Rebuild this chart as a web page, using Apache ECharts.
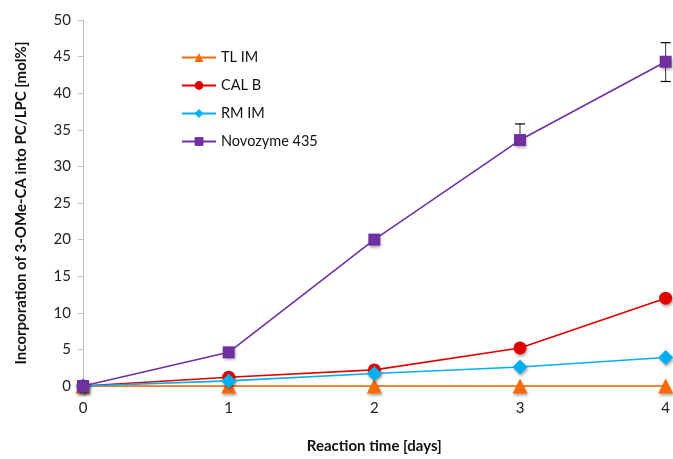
<!DOCTYPE html>
<html><head><meta charset="utf-8">
<script src="https://cdn.jsdelivr.net/npm/echarts@6/dist/echarts.min.js"></script>
<style>html,body{margin:0;padding:0;background:#fff;overflow:hidden;width:100%;height:100%}#c{width:100vw;height:100vh}</style>
</head><body><div id="c"></div>
<script>
var days = [0, 1, 2, 3, 4];
var tlIm = [0, 0, 0, 0, 0];
var calB = [0, 1.2, 2.2, 5.2, 12.0];
var rmIm = [0, 0.7, 1.7, 2.6, 3.9];
var novozyme = [0, 4.6, 20.0, 33.6, 44.3];
var novoErrUpper = [null, null, null, 35.8, 46.9];
var novoErrLower = [null, null, null, null, 41.6];

function pairs(vals){ return days.map(function(d,i){ return [d, vals[i]]; }); }

var font = 'Lato, "Open Sans", sans-serif';
function lineSeries(name, vals, color, symbol, size, z){
  return {
    name: name, type: 'line', data: pairs(vals), symbol: symbol, symbolSize: size,
    z: z, clip: false,
    lineStyle: {color: color, width: 1.6},
    itemStyle: {color: color, shadowBlur: 3, shadowColor: 'rgba(0,0,0,0.35)', shadowOffsetX: 1, shadowOffsetY: 2},
    emphasis: {disabled: true}
  };
}

var errData = [];
days.forEach(function(d,i){
  if (novoErrUpper[i] !== null) errData.push([d, novozyme[i], novoErrUpper[i]]);
  if (novoErrLower[i] !== null) errData.push([d, novozyme[i], novoErrLower[i]]);
});

var chart = echarts.init(document.getElementById('c'));
chart.setOption({
  animation: false,
  grid: {left: 83, right: 1, top: 20, bottom: 69, containLabel: false},
  legend: {
    orient: 'vertical', left: 176, top: 45, itemWidth: 34, itemHeight: 11, itemGap: 13,
    textStyle: {fontFamily: font, fontSize: 14.5, color: '#111'},
    data: ['TL IM', 'CAL B', 'RM IM', 'Novozyme 435']
  },
  xAxis: {
    type: 'value', min: 0, max: 4, interval: 1,
    name: 'Reaction time [days]', nameLocation: 'middle', nameGap: 53,
    nameTextStyle: {fontFamily: font, fontSize: 15, fontWeight: 'bold', color: '#111'},
    axisLine: {show: true, lineStyle: {color: '#bfbfbf'}},
    axisTick: {show: false},
    splitLine: {show: false},
    axisLabel: {fontFamily: font, fontSize: 15, color: '#222', margin: 15}
  },
  yAxis: {
    type: 'value', min: 0, max: 50, interval: 5,
    name: 'Incorporation of 3-OMe-CA into PC/LPC [mol%]', nameLocation: 'middle', nameGap: 54,
    nameTextStyle: {fontFamily: font, fontSize: 15, fontWeight: 'bold', color: '#111'},
    axisLine: {show: true, lineStyle: {color: '#bfbfbf'}},
    axisTick: {show: true, length: 5, lineStyle: {color: '#bfbfbf'}},
    splitLine: {show: false},
    axisLabel: {fontFamily: font, fontSize: 15, color: '#222', margin: 12}
  },
  series: [
    lineSeries('TL IM', tlIm, '#FF6A00', 'triangle', 15, 2),
    lineSeries('CAL B', calB, '#E00000', 'circle', 13, 3),
    lineSeries('RM IM', rmIm, '#00B0F0', 'diamond', 15, 4),
    lineSeries('Novozyme 435', novozyme, '#7030A0', 'rect', 12, 5),
    {
      type: 'custom', name: 'err', z: 1, silent: true, data: errData,
      renderItem: function(params, api){
        var p0 = api.coord([api.value(0), api.value(1)]);
        var p1 = api.coord([api.value(0), api.value(2)]);
        return {type: 'group', children: [
          {type: 'line', shape: {x1: p0[0], y1: p0[1], x2: p1[0], y2: p1[1]}, style: {stroke: '#000', lineWidth: 0.8}},
          {type: 'line', shape: {x1: p1[0]-5, y1: p1[1], x2: p1[0]+5, y2: p1[1]}, style: {stroke: '#000', lineWidth: 1.2}}
        ]};
      }
    }
  ]
});
</script></body></html>
